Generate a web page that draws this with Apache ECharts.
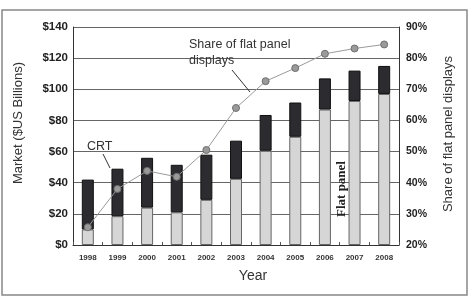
<!DOCTYPE html>
<html>
<head>
<meta charset="utf-8">
<script src="https://cdn.jsdelivr.net/npm/echarts@6/dist/echarts.min.js"></script>
<style>
  html, body { margin: 0; padding: 0; background: #fff; }
  #main { width: 470px; height: 299px; }
</style>
</head>
<body>
<div id="main"></div>
<script>
// data
var years = ['1998', '1999', '2000', '2001', '2002', '2003', '2004', '2005', '2006', '2007', '2008'];
var flatPanel = [10, 18.5, 24, 21, 29, 42.5, 60.5, 69.5, 87, 92.5, 97];
var crt = [32, 30.5, 32, 30.5, 29, 24.5, 23, 22, 20, 19.5, 18];
var flatShare = [25.7, 38, 43.8, 41.9, 50.5, 64, 72.6, 76.8, 81.4, 83.1, 84.4];

var font = 'Liberation Sans, Arial, sans-serif';

var chart = echarts.init(document.getElementById('main'));
chart.setOption({
    animation: false,
    grid: { left: 73, top: 27, width: 326, height: 218 },
    xAxis: {
        type: 'category',
        data: years,
        axisLine: { lineStyle: { color: '#333', width: 1 } },
        axisTick: { show: true, inside: true, length: 3, lineStyle: { color: '#555' } },
        axisLabel: { color: '#333', fontSize: 8, fontWeight: 'bold', fontFamily: font, margin: 9 }
    },
    yAxis: [
        {
            type: 'value',
            min: 0, max: 140, interval: 20,
            axisLine: { show: true, lineStyle: { color: '#333' } },
            axisTick: { show: false },
            splitLine: { lineStyle: { color: '#666', width: 1 } },
            axisLabel: {
                color: '#222', fontSize: 11.5, fontWeight: 'bold', fontFamily: font, margin: 5,
                formatter: function (v) { return '$' + v; }
            }
        },
        {
            type: 'value',
            min: 20, max: 90, interval: 10,
            axisLine: { show: true, lineStyle: { color: '#333' } },
            axisTick: { show: false },
            splitLine: { show: false },
            axisLabel: {
                color: '#222', fontSize: 10.5, fontWeight: 'bold', fontFamily: font, margin: 7,
                formatter: '{value}%'
            }
        }
    ],
    series: [
        {
            name: 'Flat panel',
            type: 'bar',
            stack: 'market',
            barWidth: 12,
            itemStyle: { color: '#d6d6d6', borderColor: '#666', borderWidth: 1 },
            data: flatPanel
        },
        {
            name: 'CRT',
            type: 'bar',
            stack: 'market',
            barWidth: 12,
            itemStyle: { color: '#2b2b30', borderColor: '#111', borderWidth: 1 },
            data: crt
        },
        {
            name: 'Share of flat panel displays',
            type: 'line',
            yAxisIndex: 1,
            z: 5,
            symbol: 'circle',
            symbolSize: 7,
            lineStyle: { color: '#9a9a9a', width: 1 },
            itemStyle: { color: '#9a9a9a', borderColor: '#6e6e6e', borderWidth: 1 },
            data: flatShare
        }
    ],
    graphic: [
        // outer frame
        { type: 'rect', shape: { x: 2, y: 10, width: 465, height: 285 }, style: { fill: null, stroke: '#888', lineWidth: 1.5 } },
        // caption cut off at the top edge, only descenders show
        { type: 'text', x: 234, y: -14, style: { text: 'Figure 1.1  Display market by type of technology', fill: '#444', font: '13px ' + font, textAlign: 'center', textVerticalAlign: 'top' } },
        // axis titles
        { type: 'text', x: 253, y: 276, style: { text: 'Year', fill: '#333', font: '14px ' + font, textAlign: 'center', textVerticalAlign: 'middle' } },
        { type: 'text', x: 18, y: 123, rotation: Math.PI / 2, style: { text: 'Market ($US Billions)', fill: '#333', font: '13px ' + font, textAlign: 'center', textVerticalAlign: 'middle' } },
        { type: 'text', x: 448, y: 134, rotation: Math.PI / 2, style: { text: 'Share of flat panel displays', fill: '#333', font: '13px ' + font, textAlign: 'center', textVerticalAlign: 'middle' } },
        // annotations
        { type: 'text', x: 189, y: 45, z: 10, style: { text: 'Share of flat panel', fill: '#333', font: '12.5px ' + font, textAlign: 'left', textVerticalAlign: 'middle' } },
        { type: 'text', x: 189, y: 61, z: 10, style: { text: 'displays', fill: '#333', font: '12.5px ' + font, textAlign: 'left', textVerticalAlign: 'middle' } },
        { type: 'line', z: 10, shape: { x1: 232, y1: 70, x2: 250, y2: 92 }, style: { stroke: '#333', lineWidth: 1 } },
        { type: 'text', x: 87, y: 147, z: 10, style: { text: 'CRT', fill: '#333', font: '12.5px ' + font, textAlign: 'left', textVerticalAlign: 'middle' } },
        { type: 'line', z: 10, shape: { x1: 103, y1: 154, x2: 110, y2: 168 }, style: { stroke: '#333', lineWidth: 1 } },
        { type: 'text', x: 342, y: 189, z: 10, rotation: Math.PI / 2, style: { text: 'Flat panel', fill: '#222', font: 'bold 13px Liberation Serif, Times New Roman, serif', textAlign: 'center', textVerticalAlign: 'middle' } }
    ]
});
</script>
</body>
</html>
